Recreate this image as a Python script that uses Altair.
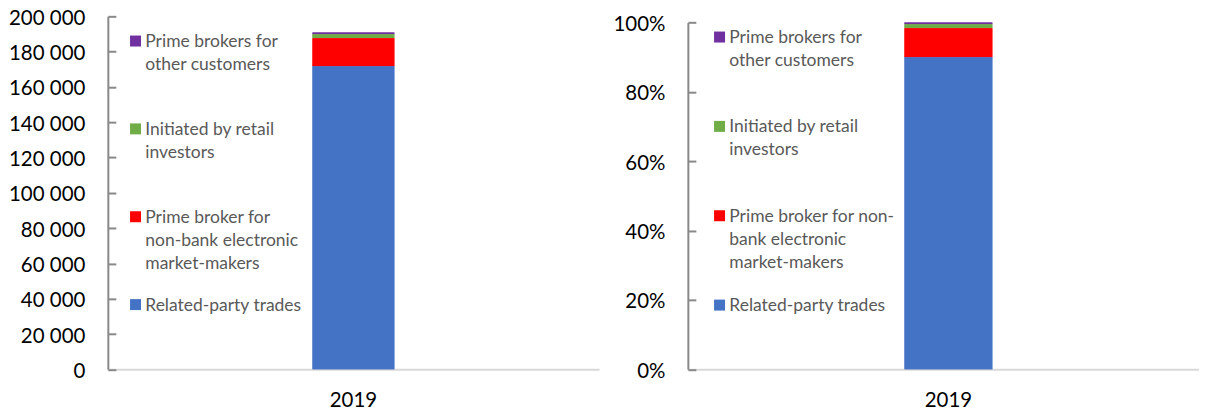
import json
import altair as alt
import pandas as pd

# ---------------- data ----------------
years = ["2019"]
segments = [
    "Prime brokers for other customers",
    "Initiated by retail investors",
    "Prime broker for non-bank electronic market-makers",
    "Related-party trades",
]
values_2019 = [1000, 2200, 15900, 171700]
stack_rank = [3, 2, 1, 0]          # 0 = bottom of the stack
segment_colors = ["#7030A0", "#70AD47", "#FF0000", "#4472C4"]

left_ticks = [0, 20000, 40000, 60000, 80000, 100000, 120000, 140000, 160000, 180000, 200000]
right_ticks = [0, 0.2, 0.4, 0.6, 0.8, 1.0]

left_legend_lines = [
    ["Prime brokers for", "other customers"],
    ["Initiated by retail", "investors"],
    ["Prime broker for", "non-bank electronic", "market-makers"],
    ["Related-party trades"],
]
right_legend_lines = [
    ["Prime brokers for", "other customers"],
    ["Initiated by retail", "investors"],
    ["Prime broker for non-", "bank electronic", "market-makers"],
    ["Related-party trades"],
]

df = pd.DataFrame({
    "year": years * len(segments),
    "segment": segments,
    "value": values_2019,
    "rank": stack_rank,
})

# ---------------- style ----------------
FONT = "Lato"
AXIS_GRAY = "#898989"
BASE_GRAY = "#d9d9d9"
H = 353.6
SYMBOL = "M-1,-2.09L1,-2.09L1,-0.09L-1,-0.09Z"


def label_expr(lines_list):
    expr = "datum.label"
    for seg, lines in reversed(list(zip(segments, lines_list))):
        expr = f"datum.label == {json.dumps(seg)} ? {json.dumps(lines)} : ({expr})"
    return expr


def panel(stack, y_scale, x_scale, tick_values, y_label_expr, y_format, bar_size, width,
          legend_lines, legend_x, legend_y, row_pad):
    base = alt.Chart(df).mark_bar(size=bar_size).encode(
        x=alt.X("year:N", title=None, sort=years, scale=x_scale,
                axis=alt.Axis(labelAngle=0, ticks=False, tickSize=0, labelPadding=21,
                              domainColor=BASE_GRAY, domainWidth=2, grid=False,
                              labelFont=FONT, labelFontSize=20.5, labelColor="#000000")),
        color=alt.Color("segment:N",
                        scale=alt.Scale(domain=segments, range=segment_colors),
                        legend=alt.Legend(orient="none", legendX=legend_x, legendY=legend_y,
                                          title=None, direction="vertical", columns=1,
                                          gridAlign="all", rowPadding=row_pad, padding=0,
                                          symbolType=SYMBOL, symbolSize=121,
                                          symbolStrokeWidth=0, labelFont=FONT,
                                          labelFontSize=17.5, labelColor="#595959",
                                          labelLimit=400, labelOffset=1,
                                          labelBaseline="alphabetic",
                                          labelExpr=label_expr(legend_lines))),
        order=alt.Order("rank:Q", sort="ascending"),
    )
    axis_line = base.encode(
        y=alt.Y("value:Q", stack=stack, scale=y_scale, title=None,
                axis=alt.Axis(orient="left", domain=True, domainColor=AXIS_GRAY,
                              domainWidth=2, ticks=False, labels=False, grid=False))
    )
    tick_kwargs = dict(orient="left", offset=-8, domain=False, ticks=True, tickSize=8,
                       tickColor=AXIS_GRAY, tickWidth=2, values=tick_values,
                       labelPadding=23, labelOffset=2, grid=False, labelFont=FONT,
                       labelFontSize=20.5, labelColor="#000000")
    if y_label_expr:
        tick_kwargs["labelExpr"] = y_label_expr
    if y_format:
        tick_kwargs["format"] = y_format
    axis_ticks = base.encode(
        y=alt.Y("value:Q", stack=stack, scale=y_scale, title=None,
                axis=alt.Axis(**tick_kwargs))
    )
    return alt.layer(axis_line, axis_ticks).resolve_axis(y="independent").properties(
        width=width, height=H)


left = panel(
    stack="zero",
    y_scale=alt.Scale(domain=[0, 200000], nice=False),
    x_scale=alt.Scale(paddingInner=0, paddingOuter=0.5, align=0.5),
    tick_values=left_ticks,
    y_label_expr="replace(format(datum.value, ','), ',', ' ')",
    y_format=None,
    bar_size=82,
    width=492,
    legend_lines=left_legend_lines,
    legend_x=19,
    legend_y=22,
    row_pad=23,
)

right = panel(
    stack="normalize",
    y_scale=alt.Scale(domain=[0, 1], nice=False, range=[H, H - 347.5]),
    x_scale=alt.Scale(paddingInner=0, paddingOuter=0.5, align=0.5195),
    tick_values=right_ticks,
    y_label_expr=None,
    y_format=".0%",
    bar_size=88,
    width=512,
    legend_lines=right_legend_lines,
    legend_x=23,
    legend_y=18,
    row_pad=24.5,
)

chart = (
    alt.hconcat(left, right, spacing=13)
    .resolve_scale(y="independent", color="independent")
    .resolve_legend(color="independent")
    .properties(padding=0, background="white")
    .configure(style={"guide-label": {"lineHeight": 23}})
    .configure_view(stroke=None)
)

chart.save("out.html", embed_options={"renderer": "svg", "actions": False})
